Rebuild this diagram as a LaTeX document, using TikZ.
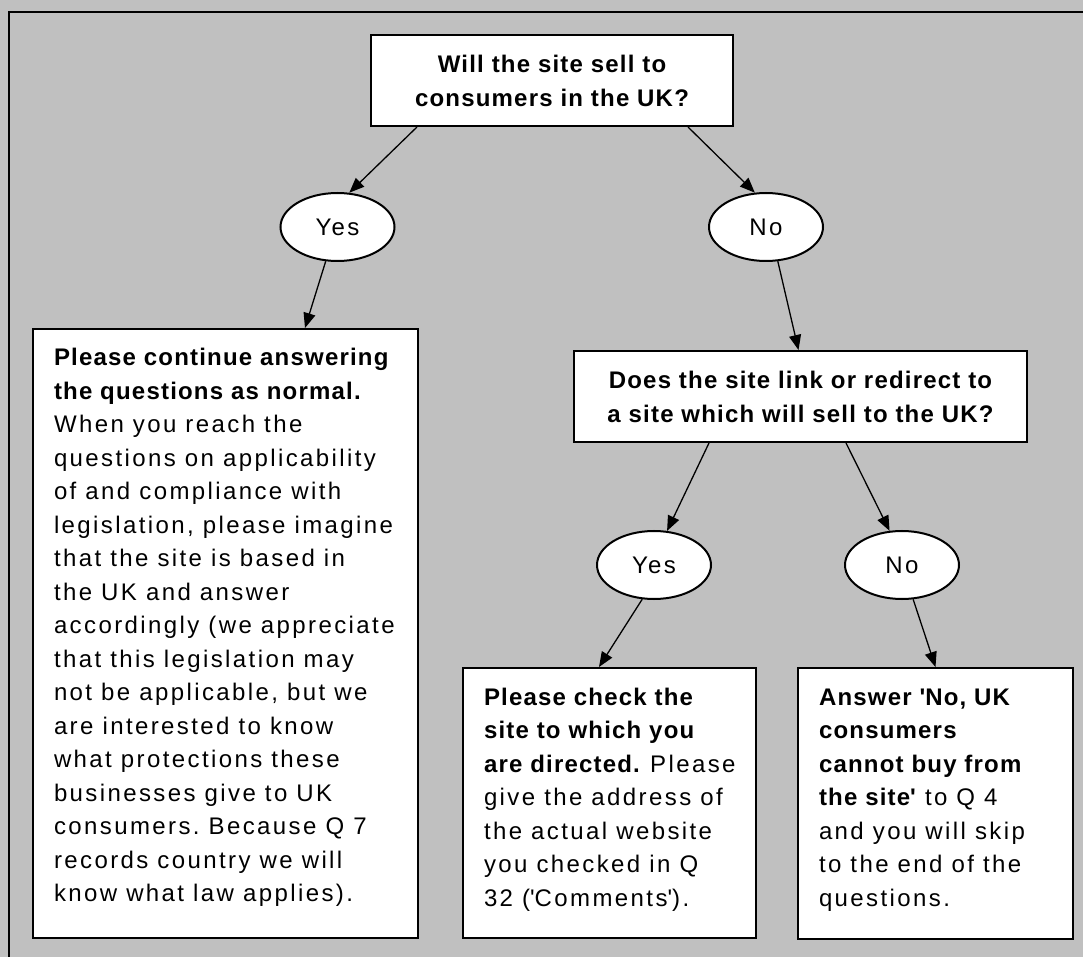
\documentclass[tikz,border=0pt]{standalone}
\usepackage{fontspec}
\setmainfont{Liberation Sans}[LetterSpace=10,BoldFeatures={LetterSpace=5}]
\usetikzlibrary{shapes.geometric,arrows.meta}
\definecolor{PanelGray}{HTML}{C0C0C0}
\newcommand{\sq}{\textquotesingle}
\newcommand{\infotext}[3]{\parbox[t][#1][t]{#2}{\raggedright\frenchspacing\leftskip=10.5pt\rule{0pt}{18.5pt}#3}}

\begin{document}
\begin{tikzpicture}[x=0.5pt,y=-0.5pt,
  question/.style={draw,fill=white,line width=1pt,align=center,inner sep=0pt,
    font=\bfseries\fontsize{12pt}{17pt}\selectfont,minimum width=#1,minimum height=45.5pt},
  answer/.style={draw,fill=white,line width=1pt,ellipse,inner sep=0pt,
    font=\fontsize{12pt}{16.75pt}\selectfont,minimum width=57pt,minimum height=34pt},
  infobox/.style={draw,fill=white,line width=1pt,anchor=north west,inner sep=0pt,
    font=\fontsize{12pt}{16.75pt}\selectfont},
  arr/.style={line width=0.65pt,-{Triangle[length=7.5pt,width=6pt]}}]
\clip (0,0) rectangle (1083,957);
\fill[PanelGray] (0,0) rectangle (1083,957);
\draw[line width=1pt] (9,12) rectangle (1100,980);
% questions
\node[question=181pt] (sell) at (552,80.5) {Will the site sell to\\consumers in the UK?};
\node[question=226.5pt] (link) at (800.5,396.5) {Does the site link or redirect to\\a site which will sell to the UK?};
% answers
\node[answer] (yes1) at (337.5,227) {Yes};
\node[answer] (no1) at (766,227) {No};
\node[answer] (yes2) at (654,565) {Yes};
\node[answer] (no2) at (902,565) {No};
% outcomes
\node[infobox] (normal) at (32,328) {\infotext{304.5pt}{192.5pt}{%
  \textbf{Please continue answering\\the questions as normal.}\\
  When you reach the\\questions on applicability\\of and compliance with\\
  legislation, please imagine\\that the site is based in\\the UK and answer\\
  accordingly (we appreciate\\that this legislation may\\not be applicable, but we\\
  are interested to know\\what protections these\\businesses give to UK\\
  consumers. Because Q 7\\records country we will\\know what law applies).}};
\node[infobox] (check) at (462,667) {\infotext{135pt}{146.5pt}{%
  \textbf{Please check the\\site to which you\\are directed.} Please\\
  give the address of\\the actual website\\you checked in Q\\32 (\sq Comments\sq).}};
\node[infobox] (skip) at (797,667) {\infotext{135.5pt}{137.5pt}{%
  \textbf{Answer \sq No, UK\\consumers\\cannot buy from\\the site\sq} to Q 4\\
  and you will skip\\to the end of the\\questions.}};
% connectors
\draw[arr] ([xshift=-67.5pt]sell.south) -- (yes1.71);
\draw[arr] ([xshift=68pt]sell.south) -- (no1.108);
\draw[arr] (yes1.251) -- ([xshift=39.75pt]normal.north);
\draw[arr] (no1.289) -- ([xshift=-1pt]link.north);
\draw[arr] ([xshift=-45.75pt]link.south) -- (yes2.69);
\draw[arr] ([xshift=22.75pt]link.south) -- (no2.110);
\draw[arr] (yes2.251) -- ([xshift=-5.25pt]check.north);
\draw[arr] (no2.288) -- (skip.north);
\end{tikzpicture}
\end{document}
